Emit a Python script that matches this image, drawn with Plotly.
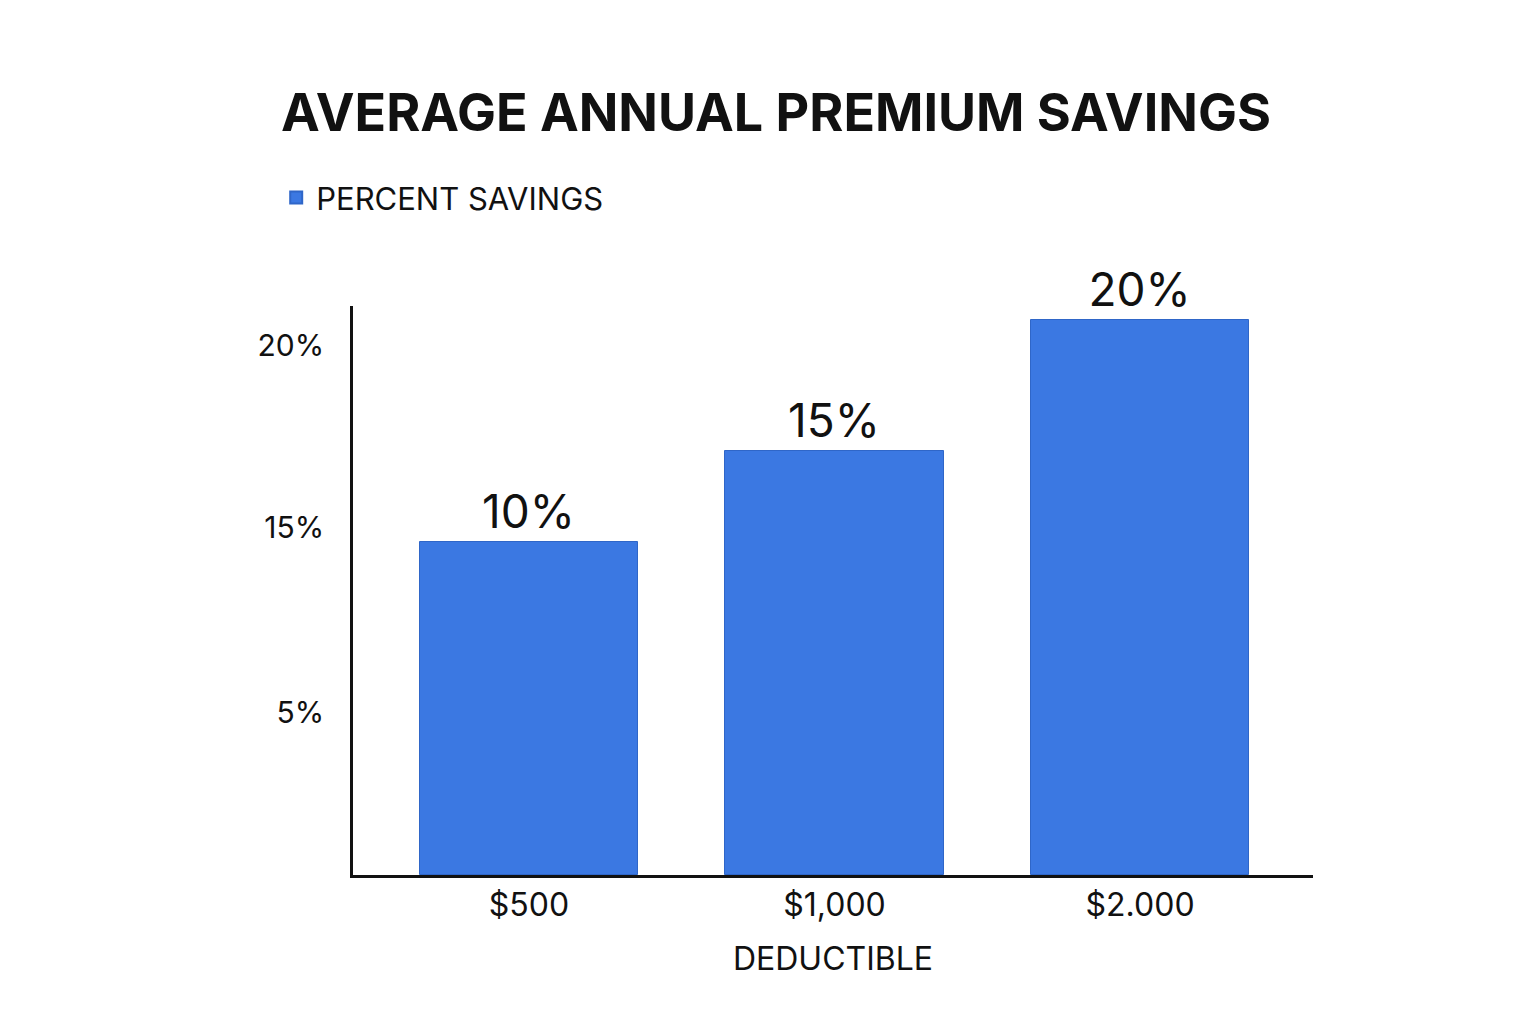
import plotly.graph_objects as go

categories = ["$500", "$1,000", "$2.000"]
bar_labels = ["10%", "15%", "20%"]
# bar heights read in the picture's own (non-linear labelled) axis units
values = [9.0, 11.46, 15.0]
tick_vals = [4.38, 9.38, 14.3]
tick_text = ["5%", "15%", "20%"]

F = "Inter, Roboto, sans-serif"
fig = go.Figure(go.Bar(
    x=list(range(len(categories))), y=values, width=0.714,
    marker=dict(color="#3B78E2", line=dict(color="#2F66C8", width=1)),
    text=bar_labels, textposition="outside", cliponaxis=False,
    textfont=dict(family=F, size=46, color="#111"),
    name="PERCENT SAVINGS", showlegend=True))

fig.update_layout(
    width=1536, height=1024, plot_bgcolor="white", paper_bgcolor="white",
    margin=dict(l=345, r=231, t=298, b=157),
    title=dict(text="<b>AVERAGE ANNUAL PREMIUM SAVINGS</b>", x=0.5, xanchor="center",
               y=0.898, yanchor="middle", font=dict(family=F, size=52, color="#111")),
    legend=dict(x=-0.08, y=1.19, xanchor="left", yanchor="middle",
                font=dict(family=F, size=31, color="#111"), itemsizing="constant"),
    font=dict(family=F, color="#111"),
    bargap=0,
)
fig.update_xaxes(range=[-0.576, 2.566], tickvals=list(range(len(categories))), ticktext=categories,
                 showline=True, linecolor="#111", linewidth=2.5, showgrid=False, ticks="",
                 tickfont=dict(family=F, size=32, color="#111"),
                 title=dict(text="DEDUCTIBLE", font=dict(family=F, size=32, color="#111"), standoff=25))
fig.update_yaxes(range=[0, 15.38], tickvals=tick_vals, ticktext=tick_text,
                 showline=True, linecolor="#111", linewidth=2.5, showgrid=False, zeroline=False,
                 ticks="outside", ticklen=20, tickcolor="white",
                 tickfont=dict(family=F, size=30, color="#111"))
fig.write_html("out.html")
